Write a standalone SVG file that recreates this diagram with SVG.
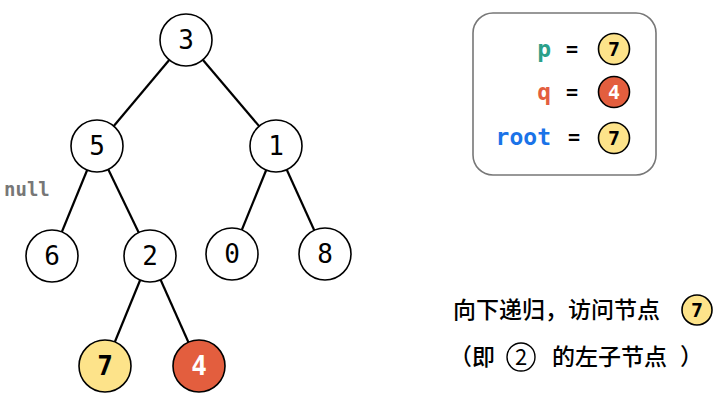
<svg xmlns="http://www.w3.org/2000/svg" width="719" height="400" viewBox="0 0 719 400">
<style>
.n{fill:#fff;stroke:#000;stroke-width:1.6}
.y{fill:#FDE38A;stroke:#000;stroke-width:1.6}
.r{fill:#E35E3E;stroke:#000;stroke-width:1.6}
.t{font-family:"DejaVu Sans Mono",monospace;font-size:26px;text-anchor:middle;fill:#000}
.tb{font-family:"DejaVu Sans Mono",monospace;font-size:26px;font-weight:bold;text-anchor:middle}
.sm{font-family:"DejaVu Sans Mono",monospace;font-size:20px;font-weight:bold;text-anchor:middle}
.v{font-family:"DejaVu Sans Mono",monospace;font-size:23px;font-weight:bold;text-anchor:end}
.cn{font-family:"Noto Sans CJK SC",sans-serif;font-size:23px;font-weight:500;fill:#000}
.e line{stroke:#000;stroke-width:2.2}
</style>
<g class="e" id="edges">
<line x1="186" y1="40" x2="97" y2="146"/>
<line x1="186" y1="40" x2="276" y2="146"/>
<line x1="97" y1="146" x2="52" y2="256"/>
<line x1="97" y1="146" x2="150" y2="256"/>
<line x1="276" y1="146" x2="232" y2="254"/>
<line x1="276" y1="146" x2="325" y2="254"/>
<line x1="150" y1="256" x2="105" y2="366"/>
<line x1="150" y1="256" x2="199" y2="366"/>
</g>
<g id="n3"><circle class="n" cx="186" cy="40" r="26"/><text class="t" x="186" y="49">3</text></g>
<g id="n5"><circle class="n" cx="97" cy="146" r="26"/><text class="t" x="97" y="155">5</text></g>
<g id="n1"><circle class="n" cx="276" cy="146" r="26"/><text class="t" x="276" y="155">1</text></g>
<g id="n6"><circle class="n" cx="52" cy="256" r="26"/><text class="t" x="52" y="265">6</text></g>
<g id="n2"><circle class="n" cx="150" cy="256" r="26"/><text class="t" x="150" y="265">2</text></g>
<g id="n0"><circle class="n" cx="232" cy="254" r="26"/><text class="t" x="232" y="263">0</text></g>
<g id="n8"><circle class="n" cx="325" cy="254" r="26"/><text class="t" x="325" y="263">8</text></g>
<g id="n7"><circle class="y" cx="105" cy="366" r="26"/><text class="tb" x="105" y="375" fill="#000">7</text></g>
<g id="n4"><circle class="r" cx="199" cy="366" r="26"/><text class="tb" x="199" y="375" fill="#fff">4</text></g>
<text id="null" x="4" y="196" font-family="DejaVu Sans Mono,monospace" font-size="19" font-weight="bold" fill="#777">null</text>
<g id="legend">
<rect x="473" y="13" width="183" height="162" rx="20" fill="#fff" stroke="#777" stroke-width="1.6"/>
<text class="v" x="551" y="57" fill="#2BA08A">p</text>
<text class="v" x="551" y="100" fill="#E35E3E">q</text>
<text class="v" x="551" y="145" fill="#1A73E8">root</text>
<text class="sm" x="572" y="56" fill="#000">=</text>
<text class="sm" x="572" y="99" fill="#000">=</text>
<text class="sm" x="574" y="144" fill="#000">=</text>
<circle class="y" cx="614" cy="49" r="15.5"/><text class="sm" x="614" y="56" fill="#000">7</text>
<circle class="r" cx="614" cy="92" r="15.5"/><text class="sm" x="614" y="99" fill="#fff">4</text>
<circle class="y" cx="614" cy="138" r="15.5"/><text class="sm" x="614" y="145" fill="#000">7</text>
</g>
<g id="caption">
<text class="cn" x="453" y="318">向下递归，访问节点</text>
<circle class="y" cx="697" cy="310" r="15"/><text class="sm" x="697" y="317" fill="#000">7</text>
<text class="cn" x="449" y="365">（即</text>
<circle cx="521" cy="357" r="14" fill="#fff" stroke="#000" stroke-width="1.4"/>
<text x="521" y="365" font-family="Noto Sans CJK SC,sans-serif" font-size="22" text-anchor="middle">2</text>
<text class="cn" x="552" y="365">的左子节点</text>
<text class="cn" x="680" y="365">）</text>
</g>
</svg>
